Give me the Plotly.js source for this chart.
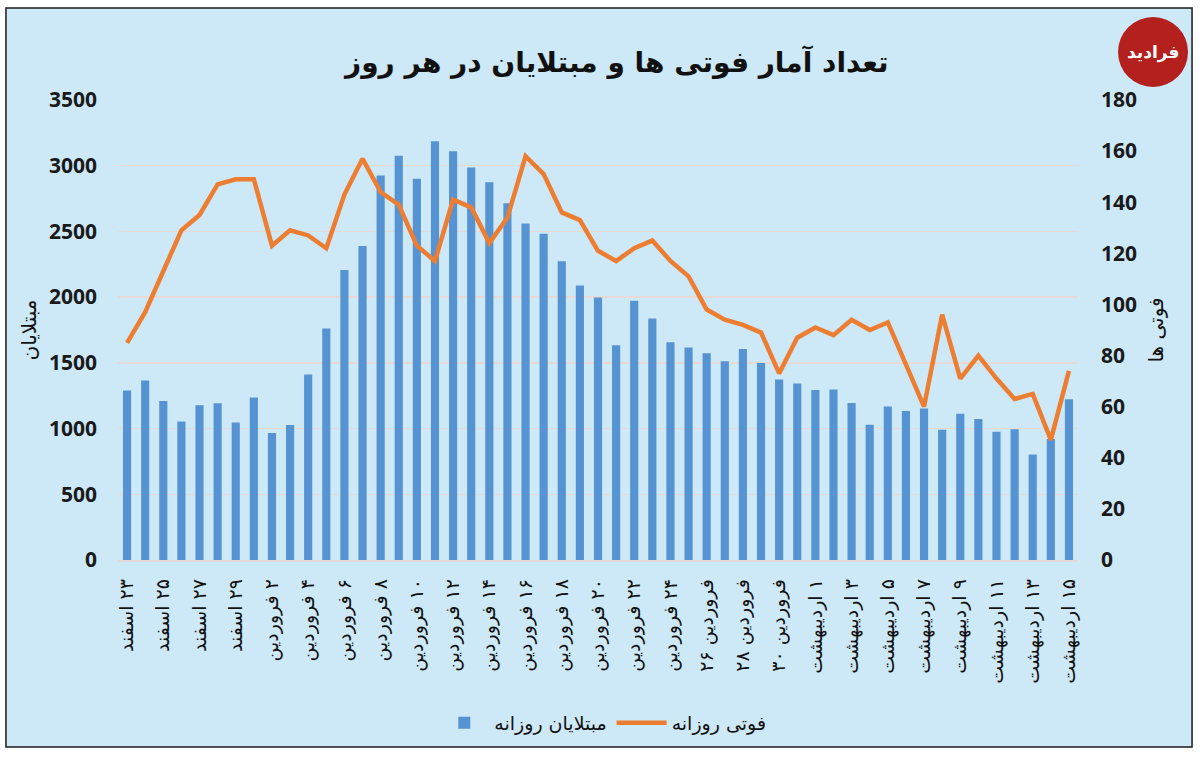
<!DOCTYPE html>
<html>
<head>
<meta charset="utf-8">
<script src="https://cdn.plot.ly/plotly-3.0.1.min.js"></script>
<style>
  html, body { margin: 0; padding: 0; background: #ffffff; }
  #chart { width: 1200px; height: 757px; }
</style>
</head>
<body>
<div id="chart"></div>
<script>
// روزها: ۲۳ اسفند تا ۱۵ اردیبهشت
const days = [
  '۲۳ اسفند', '۲۴ اسفند', '۲۵ اسفند', '۲۶ اسفند', '۲۷ اسفند', '۲۸ اسفند', '۲۹ اسفند',
  '۱ فروردین', '۲ فروردین', '۳ فروردین', '۴ فروردین', '۵ فروردین', '۶ فروردین', '۷ فروردین',
  '۸ فروردین', '۹ فروردین', '۱۰ فروردین', '۱۱ فروردین', '۱۲ فروردین', '۱۳ فروردین', '۱۴ فروردین',
  '۱۵ فروردین', '۱۶ فروردین', '۱۷ فروردین', '۱۸ فروردین', '۱۹ فروردین', '۲۰ فروردین', '۲۱ فروردین',
  '۲۲ فروردین', '۲۳ فروردین', '۲۴ فروردین', '۲۵ فروردین', 'فروردین ۲۶', '۲۷ فروردین', 'فروردین ۲۸',
  '۲۹ فروردین', 'فروردین ۳۰', '۳۱ فروردین',
  '۱ اردیبهشت', '۲ اردیبهشت', '۳ اردیبهشت', '۴ اردیبهشت', '۵ اردیبهشت', '۶ اردیبهشت', '۷ اردیبهشت',
  '۸ اردیبهشت', '۹ اردیبهشت', '۱۰ اردیبهشت', '۱۱ اردیبهشت', '۱۲ اردیبهشت', '۱۳ اردیبهشت', '۱۴ اردیبهشت',
  '۱۵ اردیبهشت'
];

// مبتلایان روزانه
const infected = [
  1289, 1365, 1209, 1053, 1178, 1192, 1046,
  1237, 966, 1028, 1411, 1762, 2206, 2389,
  2926, 3076, 2901, 3186, 3111, 2987, 2875,
  2715, 2560, 2483, 2274, 2089, 1997, 1634,
  1972, 1837, 1657, 1617, 1574, 1512, 1606,
  1499, 1374, 1343,
  1294, 1297, 1194, 1030, 1168, 1134, 1153,
  991, 1112, 1073, 975, 995, 802, 920,
  1223
];

// فوتی روزانه
const deaths = [
  85, 97, 113, 129, 135, 147, 149,
  149, 123, 129, 127, 122, 143, 157,
  144, 139, 123, 117, 141, 138, 124,
  134, 158, 151, 136, 133, 121, 117,
  122, 125, 117, 111, 98, 94, 92,
  89, 73, 87,
  91, 88, 94, 90, 93, 76, 60,
  96, 71, 80, 71, 63, 65, 47,
  74
];

// every other day gets a label; RLM keeps the digits on the right side
const tickDays = days.filter((d, i) => i % 2 === 0);
const tickText = tickDays.map(d => '\u200F' + d);

const faFont = 'DejaVu Sans, Noto Sans, sans-serif';
const numFont = 'Open Sans, Roboto, sans-serif';

const bars = {
  type: 'bar',
  name: 'مبتلایان روزانه',
  x: days,
  y: infected,
  marker: { color: '#5593d3' },
  yaxis: 'y'
};

const line = {
  type: 'scatter',
  mode: 'lines',
  name: 'فوتی روزانه',
  x: days,
  y: deaths,
  line: { color: '#ed7d31', width: 4.5 },
  yaxis: 'y2'
};

const layout = {
  width: 1200,
  height: 757,
  margin: { l: 118, r: 122, t: 100, b: 197 },
  paper_bgcolor: '#ffffff',
  plot_bgcolor: 'rgba(0,0,0,0)',
  bargap: 0.55,
  showlegend: true,
  title: {
    text: 'تعداد آمار فوتی ها و مبتلایان در هر روز',
    font: { family: faFont, size: 28, color: '#111111', weight: 'bold' },
    x: 0.514, xanchor: 'center',
    y: 0.918, yanchor: 'middle'
  },
  xaxis: {
    type: 'category',
    tickmode: 'array',
    tickvals: tickDays,
    ticktext: tickText,
    tickangle: -90,
    tickfont: { family: faFont, size: 19, color: '#111111' },
    ticklabelstandoff: 10,
    showgrid: false,
    showline: true,
    linecolor: '#e3d8d4',
    linewidth: 1.5,
    zeroline: false
  },
  yaxis: {
    range: [0, 3500],
    dtick: 500,
    tickfont: { family: numFont, size: 21, color: '#1a1a1a', weight: 'bold' },
    ticklabelstandoff: 20,
    gridcolor: '#e8d9d4',
    gridwidth: 1.5,
    zeroline: false,
    title: {
      text: 'مبتلایان',
      font: { family: faFont, size: 20, color: '#111111' },
      standoff: 6
    }
  },
  yaxis2: {
    overlaying: 'y',
    side: 'right',
    range: [0, 180],
    dtick: 20,
    tickfont: { family: numFont, size: 21, color: '#1a1a1a', weight: 'bold' },
    ticklabelstandoff: 22,
    showgrid: false,
    zeroline: false,
    title: {
      text: 'فوتی ها',
      font: { family: faFont, size: 20, color: '#111111' },
      standoff: 12
    }
  },
  legend: {
    orientation: 'h',
    x: 0.505, xanchor: 'center',
    y: -0.354, yanchor: 'middle',
    font: { family: faFont, size: 19, color: '#111111' },
    itemwidth: 50,
    bgcolor: 'rgba(0,0,0,0)'
  },
  shapes: [
    {
      type: 'rect', layer: 'below',
      xref: 'paper', yref: 'paper',
      x0: -0.1167, x1: 1.1188, y0: -0.4065, y1: 1.2,
      fillcolor: '#cde8f6',
      line: { color: '#1a1a1a', width: 1.5 }
    },
    {
      type: 'circle', layer: 'above',
      xref: 'paper', yref: 'paper',
      x0: 1.0417, x1: 1.1146, y0: 1.0283, y1: 1.1804,
      fillcolor: '#b3201d',
      line: { width: 0 }
    }
  ],
  annotations: [
    {
      xref: 'paper', yref: 'paper',
      x: 1.0781, y: 1.1043,
      xanchor: 'center', yanchor: 'middle',
      text: 'فرادید',
      showarrow: false,
      font: { family: faFont, size: 17, color: '#ffffff', weight: 'bold' }
    }
  ]
};

Plotly.newPlot('chart', [bars, line], layout, { displayModeBar: false, staticPlot: true });
</script>
</body>
</html>
